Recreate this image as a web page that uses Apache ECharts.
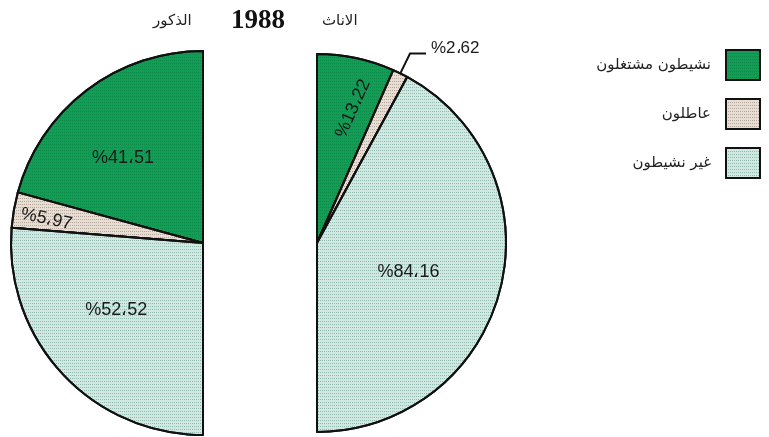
<!DOCTYPE html>
<html>
<head>
<meta charset="utf-8">
<script src="https://cdn.jsdelivr.net/npm/echarts@6/dist/echarts.min.js"></script>
<style>
  html, body { margin: 0; padding: 0; background: #fff; }
  #chart { width: 769px; height: 437px; }
</style>
</head>
<body>
<div id="chart"></div>
<script>
// Labour status of the population, 1988 (percent)
const categories = ['نشيطون مشتغلون', 'عاطلون', 'غير نشيطون'];
const males = [41.51, 5.97, 52.52];
const females = [13.22, 2.62, 84.16];
const yearLabel = '1988';
const maleTitle = 'الذكور';
const femaleTitle = 'الاناث';

const fills = ['#139c55', '#e6ddd3', '#cfe8e0'];
const dotColors = ['rgba(0,70,30,0.18)', 'rgba(90,60,50,0.35)', 'rgba(20,90,80,0.32)'];

// "%41،51" style: percent sign first, Arabic decimal comma
function pctText(v) {
  return '%' + v.toFixed(2).replace('.', '،');
}

function sliceStyle(i) {
  return {
    color: fills[i],
    borderColor: '#111',
    borderWidth: 2,
    decal: {
      symbol: 'rect',
      symbolSize: 1,
      dashArrayX: [1, 1],
      dashArrayY: [1, 2],
      color: dotColors[i]
    }
  };
}

const labelFont = { fontSize: 18, fontFamily: 'Liberation Sans, Arial, sans-serif', color: '#1a1a1a' };

function buildData(values, labelOpts) {
  return values.map((v, i) => ({
    name: categories[i],
    value: v,
    itemStyle: sliceStyle(i),
    label: Object.assign({ show: true, formatter: pctText(v) }, labelFont, labelOpts[i]),
    labelLine: labelOpts[i].position === 'outside'
      ? { show: true, length: 22, length2: 16, lineStyle: { color: '#111', width: 2 } }
      : { show: false }
  }));
}

const maleLabels = [
  { position: 'inside', rotate: 0 },
  { position: 'inside', rotate: -12 },
  { position: 'inside', rotate: 0 }
];
const femaleLabels = [
  { position: 'inside', rotate: 66 },
  { position: 'outside', rotate: 0, fontSize: 17 },
  { position: 'inside', rotate: 0 }
];
// screen-space nudges of label positions away from the slice centres
const maleShift = [[-20, -6], [-59, -7], [-14, 0]];
const femaleShift = [[16, -39], [0, -5], [-3, 5]];

// a label's dx/dy act in its own rotated frame, so turn screen offsets into that frame
function localShift(shift, rotateDeg) {
  const t = rotateDeg * Math.PI / 180;
  const c = Math.cos(t), s = Math.sin(t);
  return { dx: shift[0] * c - shift[1] * s, dy: shift[0] * s + shift[1] * c };
}

const chart = echarts.init(document.getElementById('chart'), null, { renderer: 'canvas' });
chart.setOption({
  animation: false,
  backgroundColor: '#fff',
  title: [
    { text: yearLabel, left: 226, top: 3, textStyle: { fontSize: 27, fontWeight: 'bold', fontFamily: 'Liberation Serif, serif', color: '#111' } },
    { text: maleTitle, left: 148, top: 9, textStyle: { fontSize: 15, fontWeight: 'normal', fontFamily: 'DejaVu Sans, sans-serif', color: '#222' } },
    { text: femaleTitle, left: 317, top: 9, textStyle: { fontSize: 15, fontWeight: 'normal', fontFamily: 'DejaVu Sans, sans-serif', color: '#222' } }
  ],
  legend: {
    orient: 'vertical',
    right: 3,
    top: 44,
    align: 'right',
    icon: 'rect',
    itemWidth: 34,
    itemHeight: 30,
    itemGap: 17,
    data: categories,
    textStyle: { fontSize: 15, fontFamily: 'DejaVu Sans, sans-serif', color: '#222', padding: [0, 10, 0, 0] }
  },
  series: [
    {
      name: maleTitle,
      type: 'pie',
      center: [203, 243],
      radius: [0, 192],
      startAngle: 90,
      endAngle: 270,
      clockwise: false,
      avoidLabelOverlap: false,
      data: buildData(males, maleLabels),
      labelLayout: p => localShift(maleShift[p.dataIndex], maleLabels[p.dataIndex].rotate),
      emphasis: { disabled: true }
    },
    {
      name: femaleTitle,
      type: 'pie',
      center: [317, 243],
      radius: [0, 189],
      startAngle: 90,
      endAngle: -90,
      clockwise: true,
      avoidLabelOverlap: false,
      data: buildData(females, femaleLabels),
      labelLayout: p => localShift(femaleShift[p.dataIndex], femaleLabels[p.dataIndex].rotate),
      emphasis: { disabled: true }
    }
  ]
});
</script>
</body>
</html>
